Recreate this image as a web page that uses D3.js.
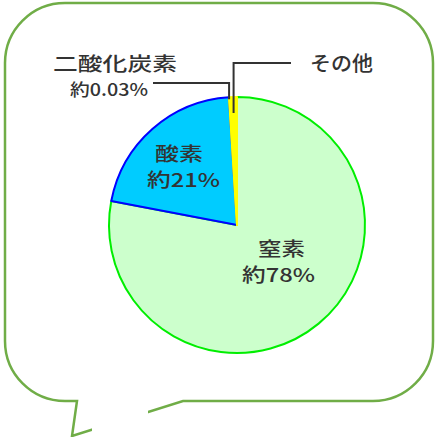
<!DOCTYPE html>
<html><head><meta charset="utf-8">
<script src="https://cdn.jsdelivr.net/npm/d3@7"></script>
<style>html,body{margin:0;padding:0;background:#fff;}svg{display:block;}</style>
</head><body>
<script>
const categories = ["窒素", "酸素", "二酸化炭素", "その他"];
const values = [78, 21, 0.03, 0.97];
const valueLabels = ["約78%", "約21%", "約0.03%", ""];
const fills = ["#ccffcc", "#00ccff", "#ffff00", "#ffff00"];
const strokes = ["#00ee00", "#0000ff", "#ffff00", "#ffff00"];

const W = 436, H = 437;
const cx = 237, cy = 225, R = 128;
const svg = d3.select("body").append("svg").attr("width", W).attr("height", H);

// speech bubble
const x0 = 5, y0 = 3, x1 = 433, y1 = 401, rr = 60;
const bubble = d3.path();
bubble.moveTo(x0 + rr, y0);
bubble.lineTo(x1 - rr, y0);
bubble.arcTo(x1, y0, x1, y0 + rr, rr);
bubble.lineTo(x1, y1 - rr);
bubble.arcTo(x1, y1, x1 - rr, y1, rr);
bubble.lineTo(183, y1);
bubble.lineTo(72, 436);
bubble.lineTo(77, y1);
bubble.lineTo(x0 + rr, y1);
bubble.arcTo(x0, y1, x0, y1 - rr, rr);
bubble.lineTo(x0, y0 + rr);
bubble.arcTo(x0, y0, x0 + rr, y0, rr);
bubble.closePath();
svg.append("path").attr("d", bubble.toString())
  .attr("fill", "#fff").attr("stroke", "#70ad47").attr("stroke-width", 2.5);
// occluded part of the tail
svg.append("rect").attr("x", 92).attr("y", 404).attr("width", 56).attr("height", 33).attr("fill", "#fff");

// pie
const pie = d3.pie().sort(null).value(d => d)(values);
const arc = d3.arc().innerRadius(0).outerRadius(R);
const g = svg.append("g").attr("transform", `translate(${cx},${cy})`);
g.selectAll("path.slice").data(pie).join("path").attr("class", "slice")
  .attr("d", arc)
  .attr("fill", (d, i) => fills[i])
  .attr("stroke", (d, i) => strokes[i])
  .attr("stroke-width", 2)
  .attr("stroke-linejoin", "round");

// leader lines
function pt(angle, r) { return [Math.sin(angle) * r, -Math.cos(angle) * r]; }
const co2 = pie[2], oth = pie[3];
const pCo2 = pt(co2.startAngle, R - 2);
const pOth = pt((oth.startAngle + oth.endAngle) / 2, R - 16);
const lineG = g.append("g").attr("fill", "none").attr("stroke", "#333").attr("stroke-width", 2);
lineG.append("path").attr("d", `M${153 - cx},${83 - cy}H${pCo2[0]}V${pCo2[1]}`);
lineG.append("path").attr("d", `M${291 - cx},${63 - cy}H${pOth[0]}V${pOth[1]}`);

// labels
const font = "'Noto Sans CJK JP', 'Noto Sans', sans-serif";
const labels = [
  {t: categories[2], x: 115, y: 62, s: 19, w: 124},
  {t: valueLabels[2], x: 109, y: 88, s: 17, w: 78},
  {t: categories[3], x: 341.5, y: 62, s: 20, w: 63},
  {t: categories[1], x: 179, y: 152, s: 19, w: 48},
  {t: valueLabels[1], x: 183.5, y: 178.5, s: 19, w: 73},
  {t: categories[0], x: 281.5, y: 247, s: 19, w: 47},
  {t: valueLabels[0], x: 278.5, y: 273.5, s: 19, w: 73}
];
svg.selectAll("text.lbl").data(labels).join("text").attr("class", "lbl")
  .attr("x", d => d.x).attr("y", d => d.y)
  .attr("text-anchor", "middle").attr("dominant-baseline", "central")
  .attr("font-family", font).attr("font-size", d => d.s).attr("font-weight", 500)
  .attr("textLength", d => d.w).attr("lengthAdjust", "spacingAndGlyphs")
  .attr("fill", "#333")
  .text(d => d.t);
</script>
</body></html>
